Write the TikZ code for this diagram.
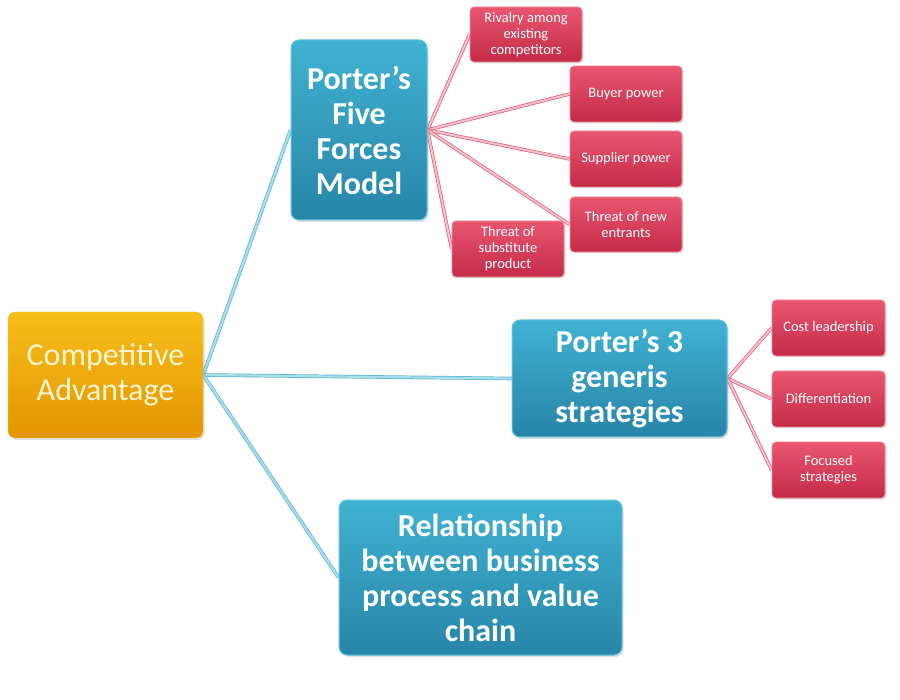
\documentclass[tikz,border=0pt]{standalone}
\usepackage{fontspec}
\setmainfont{Carlito}
\usetikzlibrary{shadows,backgrounds}
\definecolor{orangetop}{HTML}{F7BE1A}
\definecolor{orangebot}{HTML}{E39500}
\definecolor{orangetext}{HTML}{FFF6D0}
\definecolor{bluetop}{HTML}{40B2D2}
\definecolor{bluebot}{HTML}{2785A8}
\definecolor{blueedge}{HTML}{62C4DF}
\definecolor{redtop}{HTML}{E8566F}
\definecolor{redbot}{HTML}{C52B47}
\definecolor{rededge}{HTML}{F28B9C}
\definecolor{bluelink}{HTML}{A8DDEC}
\definecolor{bluelinkedge}{HTML}{5BB4D0}
\definecolor{redlink}{HTML}{F7C0CA}
\definecolor{redlinkedge}{HTML}{DA5C74}
\begin{document}
\begin{tikzpicture}[x=1pt, y=-1pt,
  mainbox/.style={rounded corners=7pt, top color=orangetop, bottom color=orangebot, draw=orangetop!70!white,
    text=orangetext, align=center, inner sep=0pt,
    font=\fontsize{32}{35}\selectfont, drop shadow={opacity=0.25, shadow xshift=1.5pt, shadow yshift=-2pt}},
  topicbox/.style={rounded corners=8pt, top color=bluetop, bottom color=bluebot, draw=blueedge, line width=1pt,
    text=white, align=center, inner sep=0pt,
    font=\bfseries\fontsize{32}{35}\selectfont, drop shadow={opacity=0.25, shadow xshift=1.5pt, shadow yshift=-2pt}},
  itembox/.style={rounded corners=4pt, top color=redtop, bottom color=redbot, draw=rededge, line width=0.8pt,
    text=white, align=center, inner sep=0pt, minimum width=112, minimum height=56,
    font=\fontsize{14.5}{16}\selectfont, drop shadow={opacity=0.25, shadow xshift=1.5pt, shadow yshift=-1.5pt}},
  bluelink/.style={draw=bluelinkedge, double=bluelink, double distance=2.2pt, line width=0.7pt},
  redlink/.style={draw=redlinkedge, double=redlink, double distance=2pt, line width=0.7pt}]
\useasboundingbox (0,0) rectangle (900,700);

% main topic
\node[mainbox, minimum width=195, minimum height=126] (ca) at (105.5,375) {Competitive\\Advantage};

% second level
\node[topicbox, minimum width=136, minimum height=180] (five) at (359,130) {Porter’s\\Five\\Forces\\Model};
\node[topicbox, minimum width=215, minimum height=117] (generic) at (619.5,378.5) {Porter’s 3\\generis\\strategies};
\node[topicbox, minimum width=283, minimum height=155] (chain) at (480.5,577.5) {Relationship\\between business\\process and value\\chain};

% five forces
\node[itembox, minimum height=55] (rivalry) at (526,34.5) {Rivalry among\\existing\\competitors};
\node[itembox] (buyer) at (626,94) {Buyer power};
\node[itembox] (supplier) at (626,159) {Supplier power};
\node[itembox, minimum height=55] (entrants) at (626,224.5) {Threat of new\\entrants};
\node[itembox] (subst) at (508,249) {Threat of\\substitute\\product};

% generic strategies
\node[itembox, minimum width=113] (cost) at (828.5,328) {Cost leadership};
\node[itembox, minimum width=113] (diff) at (828.5,399) {Differentiation};
\node[itembox, minimum width=113] (focus) at (828.5,470) {Focused\\strategies};

\begin{scope}[on background layer]
\fill[white] (0,0) rectangle (900,700);
\foreach \t in {five,generic,chain}
  \draw[bluelink] (ca.east) -- (\t.west);
\foreach \t in {rivalry,buyer,supplier,entrants,subst}
  \draw[redlink] (five.east) -- (\t.west);
\foreach \t in {cost,diff,focus}
  \draw[redlink] (generic.east) -- (\t.west);
\end{scope}
\end{tikzpicture}
\end{document}
